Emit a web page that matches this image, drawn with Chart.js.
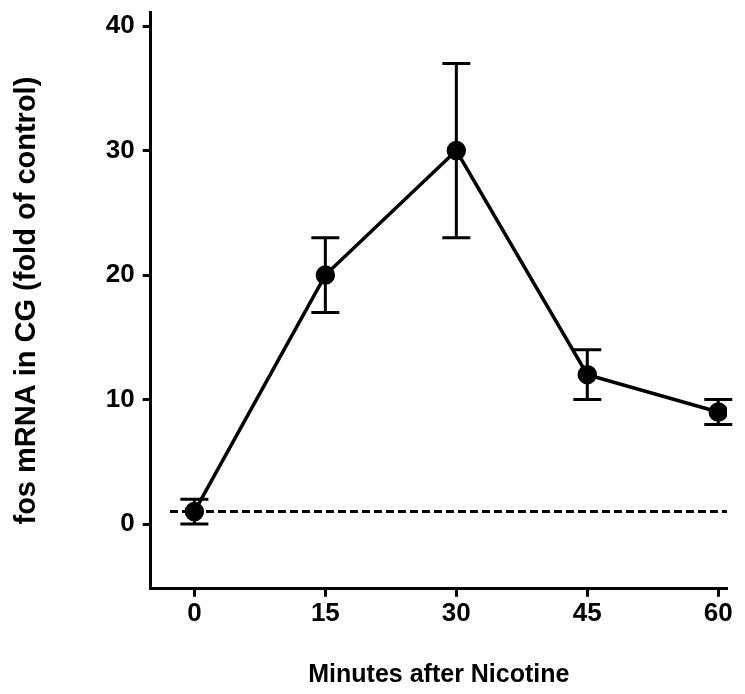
<!DOCTYPE html>
<html>
<head>
<meta charset="utf-8">
<script src="https://cdn.jsdelivr.net/npm/chart.js@4"></script>
<style>
  html, body { margin: 0; padding: 0; background: #fff; }
  #wrap { width: 745px; height: 694px; }
</style>
</head>
<body>
<div id="wrap"><canvas id="chartFos"></canvas></div>
<script>
// data
const minutes = [0, 15, 30, 45, 60];
const foldMean = [1, 20, 30, 12, 9];
const errLow = [0, 17, 23, 10, 8];
const errHigh = [2, 23, 37, 14, 10];
const controlX = [-2.8, 61];
const controlY = [1, 1];
const yTicks = [0, 10, 20, 30, 40];
const xTicks = [0, 15, 30, 45, 60];

const errorBars = {
    id: 'errorBars',
    beforeDatasetsDraw(chart) {
        const x = chart.scales.x;
        const y = chart.scales.y;
        const c = chart.ctx;
        c.save();
        c.strokeStyle = '#000';
        c.lineWidth = 3;
        minutes.forEach(function (m, i) {
            const px = x.getPixelForValue(m);
            const lo = y.getPixelForValue(errLow[i]);
            const hi = y.getPixelForValue(errHigh[i]);
            c.beginPath();
            c.moveTo(px, lo); c.lineTo(px, hi);
            c.moveTo(px - 14, lo); c.lineTo(px + 14, lo);
            c.moveTo(px - 14, hi); c.lineTo(px + 14, hi);
            c.stroke();
        });
        c.restore();
    }
};

const ctx = document.getElementById('chartFos').getContext('2d');
const xTickFont = { family: 'Liberation Sans', size: 26, weight: 'bold' };
// small lineHeight so the top label doesn't push the plot down
const yTickFont = { family: 'Liberation Sans', size: 26, weight: 'bold', lineHeight: 0.34 };

new Chart(ctx, {
    type: 'scatter',
    data: {
        datasets: [{
            label: 'control',
            data: controlX.map((v, i) => ({ x: v, y: controlY[i] })),
            showLine: true,
            borderColor: '#000',
            borderWidth: 3,
            borderDash: [8, 4],
            pointRadius: 0
        }, {
            label: 'fos',
            data: minutes.map((v, i) => ({ x: v, y: foldMean[i] })),
            showLine: true,
            borderColor: '#000',
            backgroundColor: '#000',
            borderWidth: 3.5,
            pointRadius: 8,
            pointBackgroundColor: '#000'
        }]
    },
    options: {
        responsive: true,
        maintainAspectRatio: false,
        animation: false,
        layout: { padding: { top: 0, right: 18, left: 6, bottom: 0 } },
        plugins: {
            legend: { display: false },
            tooltip: { enabled: false }
        },
        scales: {
            x: {
                type: 'linear',
                min: -5,
                max: 61,
                afterBuildTicks: (s) => { s.ticks = xTicks.map(v => ({ value: v })); },
                grid: { drawOnChartArea: false, tickLength: 8, tickColor: '#000', tickWidth: 3 },
                border: { color: '#000', width: 3 },
                ticks: { color: '#000', font: xTickFont, padding: 1 },
                title: {
                    display: true,
                    text: 'Minutes after Nicotine',
                    color: '#000',
                    font: { family: 'Liberation Sans', size: 25, weight: 'bold' },
                    padding: { top: 30, bottom: 4 }
                }
            },
            y: {
                min: -5.2,
                max: 41.1,
                afterBuildTicks: (s) => { s.ticks = yTicks.map(v => ({ value: v })); },
                grid: { drawOnChartArea: false, tickLength: 8, tickColor: '#000', tickWidth: 3 },
                border: { color: '#000', width: 3 },
                ticks: { color: '#000', font: yTickFont, padding: 8 },
                title: {
                    display: true,
                    text: 'fos mRNA in CG (fold of control)',
                    color: '#000',
                    font: { family: 'Liberation Sans', size: 29, weight: 'bold' },
                    padding: { top: 4, bottom: 53 }
                }
            }
        }
    },
    plugins: [errorBars]
});
</script>
</body>
</html>
